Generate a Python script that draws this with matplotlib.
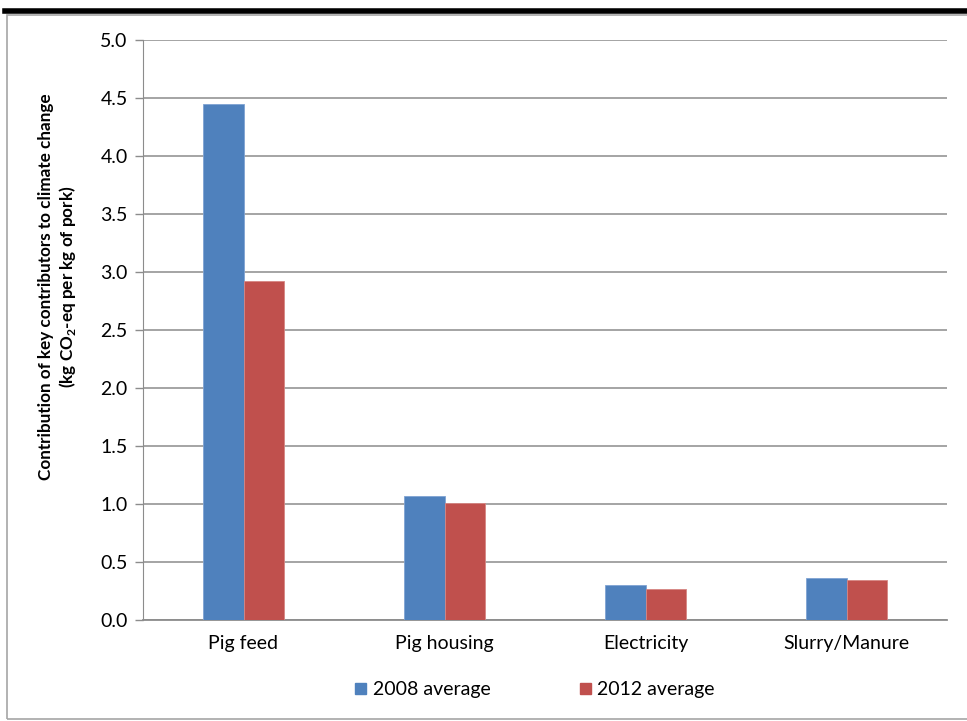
import matplotlib.pyplot as plt
from matplotlib.patches import Rectangle, Patch
from matplotlib.lines import Line2D
import numpy as np

# data
categories = ["Pig feed", "Pig housing", "Electricity", "Slurry/Manure"]
avg_2008 = [4.45, 1.07, 0.30, 0.36]
avg_2012 = [2.92, 1.01, 0.27, 0.345]
series_names = ["2008 average", "2012 average"]
y_ticks = [0.0, 0.5, 1.0, 1.5, 2.0, 2.5, 3.0, 3.5, 4.0, 4.5, 5.0]

BLUE = "#4F81BD"
RED = "#C0504D"
GRID = "#8C8C8C"
FS = 14

plt.rcParams["font.family"] = ["Lato", "DejaVu Sans"]
plt.rcParams["mathtext.fontset"] = "custom"
plt.rcParams["mathtext.bf"] = "Lato:bold"
plt.rcParams["mathtext.rm"] = "Lato"

W, H = 967, 721
fig = plt.figure(figsize=(W / 100, H / 100), dpi=100)
ax = fig.add_axes([143 / W, 1 - 620 / H, (947 - 143) / W, (620 - 40) / H])

x = np.arange(len(categories))
bw = 0.2
ax.bar(x - bw / 2, avg_2008, bw, color=BLUE, edgecolor="#7FA3D3", linewidth=0.6, zorder=3)
ax.bar(x + bw / 2, avg_2012, bw, color=RED, edgecolor="#D68683", linewidth=0.6, zorder=3)

ax.set_xlim(-0.5, len(categories) - 0.5)
ax.set_ylim(0, 5.0)
ax.set_yticks(y_ticks)
ax.set_yticklabels([f"{v:.1f}" for v in y_ticks])
ax.set_xticks(x)
ax.set_xticklabels(categories)
ax.tick_params(axis="x", length=0, pad=11, labelsize=FS)
ax.tick_params(axis="y", length=6, width=1, color=GRID, pad=5, labelsize=FS)
ax.grid(axis="y", color=GRID, linewidth=1.1, zorder=0)
for s in ["top", "right"]:
    ax.spines[s].set_visible(False)
ax.spines["left"].set_color(GRID)
ax.spines["bottom"].set_color(GRID)
ax.spines["bottom"].set_linewidth(1.3)

# y label, two centred lines
fig.text(58 / W, 1 - 287 / H,
         "Contribution of key contributors to climate change\n"
         r"(kg CO$_\mathbf{2}$-eq per kg of pork)",
         rotation=90, ha="center", va="center", multialignment="center",
         fontsize=12.3, fontweight="bold", linespacing=1.15)

# legend below the plot
handles = [Patch(color=BLUE), Patch(color=RED)]
fig.legend(handles, series_names, loc="center", bbox_to_anchor=(535 / W, 1 - 690 / H),
           ncol=2, frameon=False, fontsize=FS, handlelength=0.55, handleheight=0.55,
           handletextpad=0.35, columnspacing=4.6)

# outer frame and thick top rule
fig.add_artist(Rectangle((7 / W, 2 / H), 1.0, 1 - 17 / H, transform=fig.transFigure,
                         fill=False, edgecolor="#A6A6A6", linewidth=1.2))
fig.add_artist(Line2D([5 / W, 1.0], [1 - 11 / H, 1 - 11 / H], transform=fig.transFigure,
                      color="black", linewidth=4))

fig.savefig("out.png", dpi=100)
